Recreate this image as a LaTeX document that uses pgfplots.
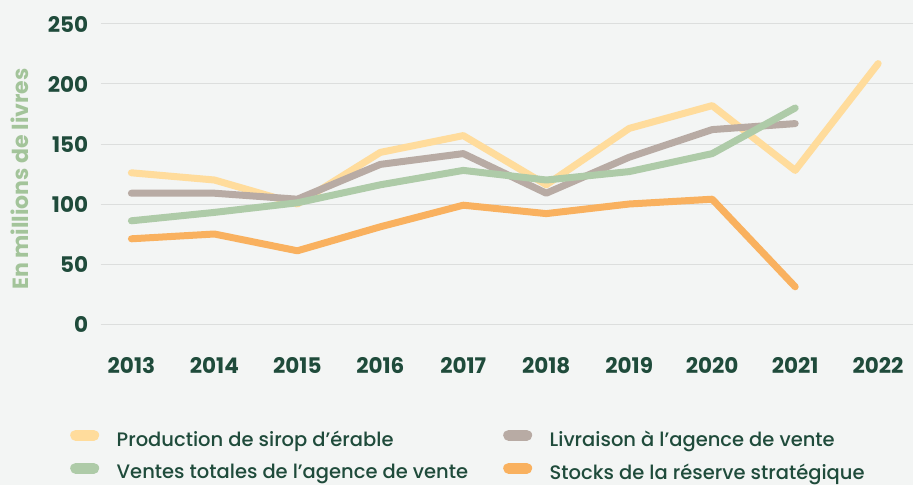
\documentclass[border=0pt]{standalone}
\usepackage{pgfplots}
\pgfplotsset{compat=1.18}
\usepackage{fontspec}
\setmainfont{Poppins}
\newfontfamily\legfont{Poppins Medium}
\definecolor{bg}{HTML}{F3F5F4}
\definecolor{gridc}{HTML}{DCDEDD}
\definecolor{txt}{HTML}{1F4B3B}
\definecolor{ylab}{HTML}{A3C49A}
\definecolor{cprod}{HTML}{FFDC9C}
\definecolor{cliv}{HTML}{B8ABA4}
\definecolor{cvent}{HTML}{AECBA8}
\definecolor{cstock}{HTML}{F9B15F}
\begin{document}
\begin{tikzpicture}
\useasboundingbox (0,0) rectangle (913pt,485pt);
\fill[bg] (0,0) rectangle (913pt,485pt);
\begin{axis}[
  at={(100.7pt,161pt)}, anchor=south west,
  scale only axis, width=812.3pt, height=300pt,
  xmin=2012.63, xmax=2022.42, ymin=0, ymax=250,
  xtick={2013,...,2022}, ytick={0,50,...,250},
  /pgf/number format/1000 sep={},
  /pgf/number format/assume math mode=true,
  axis line style={draw=none},
  major tick length=0pt,
  xmajorgrids=false,
  ymajorgrids=true, major grid style={draw=gridc, line width=1pt},
  tick label style={font=\fontsize{21.5}{24}\selectfont\bfseries, text=txt},
  yticklabel style={anchor=east, inner sep=0pt, xshift=-12.4pt},
  xticklabel style={anchor=base, inner sep=0pt, yshift=-49.5pt},
  ylabel={En millions de livres},
  ylabel style={at={(axis description cs:-0.0993,0.483)}, anchor=center, font=\fontsize{22}{24}\selectfont\bfseries, text=ylab},
  clip=false,
  every axis plot/.append style={line width=7pt, line cap=round, line join=round},
  legend columns=2,
  legend cell align=left,
  legend image code/.code={\draw[#1, line width=11pt, line cap=round] (5.5pt,0.4em) -- (23.5pt,0.4em);},
  legend style={draw=none, fill=none, at={(axis description cs:-0.0378,-0.352)}, anchor=north west,
    font=\fontsize{19.5}{22}\legfont, text=txt, inner sep=0pt, row sep=15pt,
    nodes={inner sep=0pt},
    /tikz/every odd column/.append style={column sep=17.5pt},
    /tikz/every even column/.append style={column sep=35.5pt}},
]
\addplot[cprod] coordinates {(2013,126) (2014,120) (2015,100) (2016,143) (2017,157) (2018,116) (2019,163) (2020,182) (2021,128) (2022,217)};
\addlegendentry{\makebox[351pt][l]{Production de sirop d’érable}}
\addplot[cliv] coordinates {(2013,109) (2014,109) (2015,104) (2016,133) (2017,142) (2018,109) (2019,139) (2020,162) (2021,167)};
\addlegendentry{Livraison à l’agence de vente}
\addplot[cvent] coordinates {(2013,86) (2014,93) (2015,101) (2016,116) (2017,128) (2018,120) (2019,127) (2020,142) (2021,180)};
\addlegendentry{\makebox[351pt][l]{Ventes totales de l’agence de vente}}
\addplot[cstock] coordinates {(2013,71) (2014,75) (2015,61) (2016,81) (2017,99) (2018,92) (2019,100) (2020,104) (2021,31)};
\addlegendentry{Stocks de la réserve stratégique}
\end{axis}
\end{tikzpicture}
\end{document}
